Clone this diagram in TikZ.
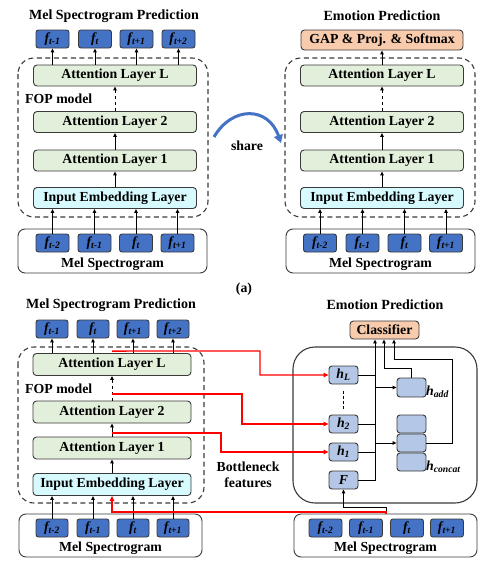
\documentclass[tikz,border=0pt]{standalone}
\usepackage{fontspec}
\setmainfont{Liberation Serif}
\usetikzlibrary{arrows.meta}
\definecolor{fblue}{HTML}{4472C4}
\definecolor{lgreen}{HTML}{E2EFDA}
\definecolor{lcyan}{HTML}{D6FAFD}
\definecolor{peach}{HTML}{F8CBAD}
\definecolor{hblue}{HTML}{B4C7E7}
\definecolor{bordc}{HTML}{3A3A3A}
\definecolor{redl}{HTML}{FF0000}
\tikzset{
  every node/.style={font=\bfseries\fontsize{13.8}{15}\selectfont, inner sep=0pt},
  fbox/.style={draw=bordc, fill=fblue, line width=0.9pt, rounded corners=2.5pt, minimum width=33pt, minimum height=18pt},
  layer/.style={draw=bordc, fill=lgreen, line width=0.9pt, rounded corners=3.5pt, minimum width=163pt, minimum height=21pt},
  emb/.style={layer, fill=lcyan},
  outbox/.style={draw=bordc, fill=peach, line width=0.9pt, rounded corners=3.5pt, minimum height=20pt},
  hbox/.style={draw=bordc, fill=hblue, line width=0.9pt, rounded corners=3pt, minimum width=29pt, minimum height=18pt},
  melbox/.style={draw=bordc, line width=0.9pt, rounded corners=7pt},
  dbox/.style={draw=bordc, line width=1.1pt, dash pattern=on 5pt off 3.5pt, rounded corners=16pt},
  arr/.style={draw=black, line width=1pt, -{Triangle[length=4pt,width=3.6pt]}},
  darr/.style={arr, dashed},
  rarr/.style={draw=redl, line width=1.4pt, -{Triangle[length=5pt,width=4.5pt]}},
  ttl/.style={font=\bfseries\fontsize{14}{16}\selectfont},
}
\newcommand{\ff}[1]{\itshape f\textsubscript{#1}}
\begin{document}
\begin{tikzpicture}[x=1pt,y=-1pt]
\useasboundingbox (0,0) rectangle (485,570);

%%%%%%%%%%%%%%%% (a) left
\node[ttl] (ta1) at (114,16) {Mel Spectrogram Prediction};
\node[fbox] (ao1) at (52.5,39) {\ff{t-1}};
\node[fbox] (ao2) at (95,39) {\ff{t}};
\node[fbox] (ao3) at (136.5,39) {\ff{t+1}};
\node[fbox] (ao4) at (178.5,39) {\ff{t+2}};
\draw[dbox] (18,58) rectangle (208,217);
\node[layer] (aL) at (115,75.5) {Attention Layer L};
\node[anchor=west] (afop) at (25,99) {FOP model};
\node[layer] (a2) at (115,122) {Attention Layer 2};
\node[layer] (a1) at (115,160.5) {Attention Layer 1};
\node[emb] (ae) at (115,198) {Input Embedding Layer};
\node[melbox, minimum width=189pt, minimum height=44pt] (am) at (112.5,251) {};
\node (aml) at (112.5,264) {Mel Spectrogram};
\node[fbox] (ai1) at (52.5,243) {\ff{t-2}};
\node[fbox] (ai2) at (94.5,243) {\ff{t-1}};
\node[fbox] (ai3) at (136,243) {\ff{t}};
\node[fbox] (ai4) at (177.5,243) {\ff{t+1}};
\foreach \i in {1,...,4}{
  \draw[arr] (ai\i.north) -- (ai\i.north |- ae.south);
  \draw[arr] (ao\i.south |- aL.north) -- (ao\i.south);
}
\draw[arr] (ae) -- (a1);
\draw[arr] (a1) -- (a2);
\draw[darr] (a2) -- (aL);

%%%%%%%%%%%%%%%% share
\coordinate (s1) at (214,137);
\coordinate (s2) at (281,143);
\draw[draw=fblue, line width=3pt, -{Triangle[length=8pt,width=9pt]}] (s1) .. controls (232,106) and (268,106) .. (s2);
\node (sh) at (247,146) {share};

%%%%%%%%%%%%%%%% (a) right
\node[ttl] (ta2) at (382,16) {Emotion Prediction};
\node[outbox, minimum width=162pt] (gap) at (382,40) {GAP \& Proj. \& Softmax};
\draw[dbox] (285,58) rectangle (475,217);
\node[layer] (bL) at (382,75.5) {Attention Layer L};
\node[layer] (b2) at (382,122) {Attention Layer 2};
\node[layer] (b1) at (382,160.5) {Attention Layer 1};
\node[emb] (be) at (382,198) {Input Embedding Layer};
\node[melbox, minimum width=189pt, minimum height=44pt] (bm) at (380.5,251) {};
\node (bml) at (380.5,264) {Mel Spectrogram};
\node[fbox] (bi1) at (320,243) {\ff{t-2}};
\node[fbox] (bi2) at (362.5,243) {\ff{t-1}};
\node[fbox] (bi3) at (404.5,243) {\ff{t}};
\node[fbox] (bi4) at (446,243) {\ff{t+1}};
\foreach \i in {1,...,4}{
  \draw[arr] (bi\i.north) -- (bi\i.north |- be.south);
}
\draw[arr] (be) -- (b1);
\draw[arr] (b1) -- (b2);
\draw[darr] (b2) -- (bL);
\draw[arr] (bL) -- (gap);

\node (lab) at (244,289) {(a)};

%%%%%%%%%%%%%%%% (b) left
\node[ttl] (tc1) at (111,305) {Mel Spectrogram Prediction};
\node[fbox, minimum width=32pt] (co1) at (52,329) {\ff{t-1}};
\node[fbox, minimum width=32pt] (co2) at (93,329) {\ff{t}};
\node[fbox, minimum width=32pt] (co3) at (133,329) {\ff{t+1}};
\node[fbox, minimum width=32pt] (co4) at (173,329) {\ff{t+2}};
\draw[dbox] (18,347) rectangle (204,503);
\node[layer, minimum width=158pt, minimum height=22pt] (cL) at (112,364.5) {Attention Layer L};
\node[anchor=west] (cfop) at (25,389) {FOP model};
\node[layer, minimum width=158pt, minimum height=22pt] (c2) at (112,412) {Attention Layer 2};
\node[layer, minimum width=158pt, minimum height=22pt] (c1) at (112,448) {Attention Layer 1};
\node[emb, minimum width=158pt, minimum height=22pt] (ce) at (112,484.5) {Input Embedding Layer};
\node[melbox, minimum width=183pt, minimum height=43pt] (cm) at (110.5,535.5) {};
\node (cml) at (110.5,548) {Mel Spectrogram};
\node[fbox, minimum width=32pt] (ci1) at (52,528) {\ff{t-2}};
\node[fbox, minimum width=32pt] (ci2) at (93,528) {\ff{t-1}};
\node[fbox, minimum width=32pt] (ci3) at (133,528) {\ff{t}};
\node[fbox, minimum width=32pt] (ci4) at (173,528) {\ff{t+1}};
\foreach \i in {1,...,4}{
  \draw[arr] (ci\i.north) -- (ci\i.north |- ce.south);
  \draw[arr] (co\i.south |- cL.north) -- (co\i.south);
}
\draw[arr] (ce) -- (c1);
\draw[arr] (c1) -- (c2);
\draw[darr] (c2) -- (cL);

\node[align=center, font=\bfseries\fontsize{13.8}{16}\selectfont] (bn) at (248,475) {Bottleneck\\features};

%%%%%%%%%%%%%%%% (b) right
\node[ttl] (tc2) at (385,305) {Emotion Prediction};
\node[outbox, minimum width=69pt, minimum height=18pt] (cls) at (384.5,330) {Classifier};
\draw[draw=bordc, line width=1.1pt, rounded corners=22pt] (293,347) rectangle (477,503);
\node[hbox] (hL) at (343.5,375) {\itshape h\textsubscript{L}};
\node[hbox] (h2) at (343.5,424) {\itshape h\textsubscript{2}};
\node[hbox] (h1) at (343.5,452) {\itshape h\textsubscript{1}};
\node[hbox] (hF) at (343.5,480) {\itshape F};
\draw[draw=black, line width=1pt, dash pattern=on 3pt off 2pt, shorten >=4pt, shorten <=7pt] (hL) -- (h2);
\node[hbox, minimum height=19pt] (had) at (411.5,387.5) {};
\node[anchor=west] (hadl) at (426,392) {\itshape h\textsubscript{add}};
\node[hbox] (hc1) at (411.5,424) {};
\node[hbox] (hc2) at (411.5,443) {};
\node[hbox] (hc3) at (411.5,462) {};
\node[anchor=west] (hcl) at (426,467) {\itshape h\textsubscript{concat}};
\node[melbox, minimum width=183pt, minimum height=43pt] (dm) at (385.5,535.5) {};
\node (dml) at (385.5,548) {Mel Spectrogram};
\node[fbox, minimum height=18pt] (di1) at (325.5,528) {\ff{t-2}};
\node[fbox, minimum height=18pt] (di2) at (366,528) {\ff{t-1}};
\node[fbox, minimum height=18pt] (di3) at (407,528) {\ff{t}};
\node[fbox, minimum height=18pt] (di4) at (447,528) {\ff{t+1}};

% bus
\coordinate (bx) at (375,0);
\draw[arr] (hF.east) -| (bx |- cls.south);
\draw[draw=black, line width=1pt] (hL.east) -- (bx |- hL.east);
\draw[draw=black, line width=1pt] (h2.east) -- (bx |- h2.east);
\draw[draw=black, line width=1pt] (h1.east) -- (bx |- h1.east);
\draw[arr] (bx |- had.west) -- (had.west);
\draw[arr] (bx |- hc2.west) -- (hc2.west);
\coordinate (k1) at (384,368);
\draw[arr] (had.north) |- (k1) -- (k1 |- cls.south);
\coordinate (k2) at (394,359);
\draw[arr] (hc2.east) -| (452,359) -- (k2) -- (k2 |- cls.south);

% input to F
\coordinate (m0) at (386,0);
\coordinate (m1) at (386,507);
\draw[arr] (m0 |- dm.north) -- (m1) -| (hF.south);

% red bottleneck lines
\coordinate (r1) at (260,351);
\draw[rarr] ([yshift=2pt]cL.north) -- (r1) |- (hL.west);
\coordinate (r2) at (242,394);
\draw[rarr] (c2.north |- r2) -- (r2) |- (h2.west);
\coordinate (r3) at (221,433);
\draw[rarr] (c1.north |- r3) -- (r3) |- (h1.west);
\coordinate (r4) at (386,512);
\draw[rarr] (m0 |- dm.north) -- (r4) -- (ce.south |- r4) -- (ce.south);
\end{tikzpicture}
\end{document}
